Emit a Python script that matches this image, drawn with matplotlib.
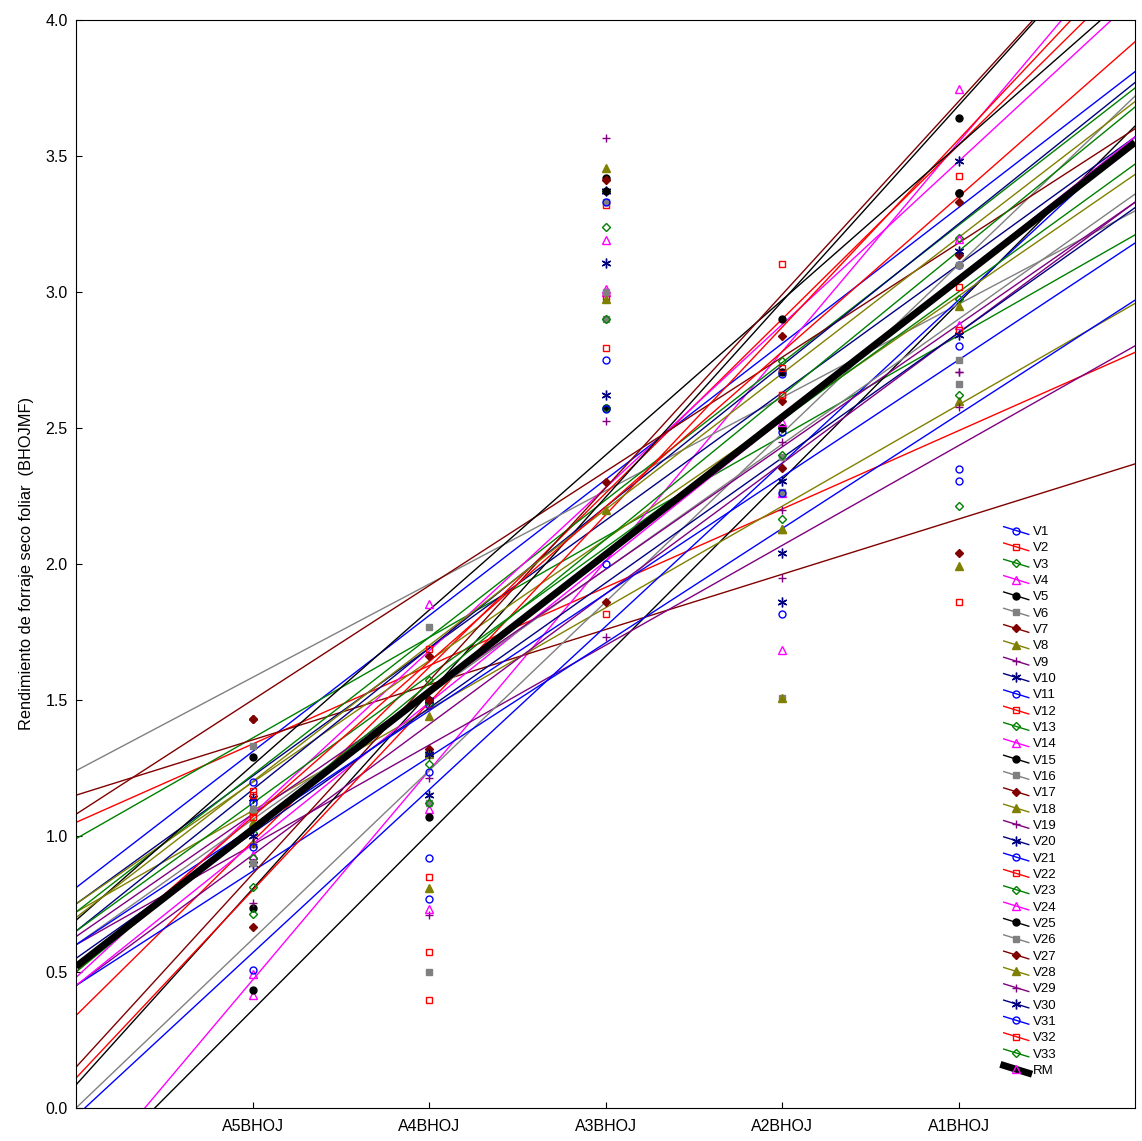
import numpy as np
import matplotlib
matplotlib.use("Agg")
import matplotlib.pyplot as plt
from matplotlib.lines import Line2D
from matplotlib.legend_handler import HandlerLine2D

plt.rcParams['font.family'] = ['Liberation Sans', 'DejaVu Sans']

categories = ["A5BHOJ", "A4BHOJ", "A3BHOJ", "A2BHOJ", "A1BHOJ"]

# observed values per variety (A5 .. A1)
V1 = [1.20, 1.236, 2.75, 2.487, 3.10]
V2 = [1.165, 1.687, 3.32, 3.103, 3.426]
V3 = [1.01, 1.573, 3.37, 2.745, 3.20]
V4 = [0.93, 1.10, 3.00, 2.262, 2.879]
V5 = [1.29, 1.50, 2.573, 2.707, 3.363]
V6 = [1.33, 1.77, 3.33, 2.395, 2.75]
V7 = [1.43, 1.32, 1.86, 2.353, 2.04]
V8 = [1.10, 1.44, 2.20, 2.129, 2.60]
V9 = [0.90, 0.71, 3.567, 2.45, 2.707]
V10 = [1.14, 1.15, 3.37, 2.306, 3.48]
V11 = [1.12, 1.48, 2.00, 2.70, 2.80]
V12 = [1.09, 0.85, 2.98, 2.62, 3.017]
V13 = [0.92, 1.49, 3.24, 2.50, 2.973]
V14 = [0.493, 1.853, 3.01, 1.684, 3.195]
V15 = [0.735, 1.30, 3.37, 2.50, 3.363]
V16 = [1.10, 1.12, 2.90, 2.266, 2.66]
V17 = [1.43, 1.66, 2.30, 2.60, 3.136]
V18 = [1.05, 1.30, 2.975, 2.129, 2.95]
V19 = [0.755, 1.475, 2.527, 2.20, 2.707]
V20 = [0.897, 1.50, 3.105, 2.042, 3.152]
V21 = [0.507, 0.92, 3.33, 1.816, 2.35]
V22 = [1.15, 0.575, 2.794, 2.72, 2.86]
V23 = [0.814, 1.265, 2.573, 2.40, 2.62]
V24 = [0.415, 0.73, 3.19, 2.523, 3.746]
V25 = [0.434, 1.07, 3.42, 2.90, 3.64]
V26 = [0.90, 0.50, 3.00, 1.507, 3.10]
V27 = [0.667, 1.50, 3.41, 2.84, 3.33]
V28 = [0.975, 0.81, 3.455, 1.507, 1.993]
V29 = [0.97, 1.213, 1.73, 1.95, 2.576]
V30 = [1.00, 1.30, 2.62, 1.862, 2.842]
V31 = [0.96, 0.77, 2.57, 2.26, 2.306]
V32 = [1.07, 0.397, 1.816, 2.62, 1.862]
V33 = [0.713, 1.12, 2.90, 2.165, 2.213]

# fitted regression line of each variety (intercept at x=0, slope per category step)
intercepts = [0.81, 1.05, 0.99, -0.30, -0.29, 1.24, 1.15, 0.72, 0.60, 0.75,
              -0.03, 0.34, 0.72, 0.48, 0.085, 0.00, 1.08, 0.75, 0.45, 0.65,
              0.45, 0.11, 0.65, 0.45, 0.69, 0.60, 0.15, 0.70, 0.63, 0.55,
              0.60, 0.50, 0.50]
slopes = [0.50, 0.288, 0.37, 0.77, 0.65, 0.343, 0.203, 0.373, 0.367, 0.47,
          0.60, 0.64, 0.505, 0.60, 0.72, 0.62, 0.42, 0.447, 0.48, 0.52,
          0.42, 0.69, 0.47, 0.52, 0.57, 0.46, 0.71, 0.50, 0.45, 0.46,
          0.43, 0.57, 0.53]
rm_intercept = 0.52
rm_slope = 0.505

series = [V1, V2, V3, V4, V5, V6, V7, V8, V9, V10, V11, V12, V13, V14, V15, V16,
          V17, V18, V19, V20, V21, V22, V23, V24, V25, V26, V27, V28, V29, V30, V31, V32, V33]
labels = ["V%d" % (i + 1) for i in range(len(series))]

colors = ['#0000ff', '#ff0000', '#008000', '#ff00ff', '#000000',
          '#808080', '#800000', '#808000', '#800080', '#000080']
markers = ['o', 's', 'D', '^', 'o', 's', 'D', '^', '+', (6, 2, 0)]
filled = [False, False, False, False, True, True, True, True, True, True]
msizes = [5, 5, 4, 5.5, 5, 5, 4, 5.5, 6, 7]

fig = plt.figure(figsize=(11.42, 11.41), dpi=100)
ax = fig.add_axes([76 / 1142, 33 / 1141, 1059 / 1142, 1088 / 1141])

xpos = np.arange(1, len(categories) + 1)
xline = np.array([0.0, 6.0])

handles = []
for i, ys in enumerate(series):
    k = i % 10
    c = colors[k]
    ax.plot(xline, intercepts[i] + slopes[i] * xline, color=c, lw=1.0, zorder=2)
    mfc = c if filled[k] else 'none'
    ax.plot(xpos, ys, linestyle='none', marker=markers[k], ms=msizes[k],
            mfc=mfc, mec=c, mew=1.0, zorder=3)
    handles.append(Line2D([], [], color=c, lw=1.0, marker=markers[k], ms=msizes[k],
                          mfc=mfc, mec=c, mew=1.0))

ax.plot(xline, rm_intercept + rm_slope * xline, color='black', lw=5, zorder=4,
        solid_capstyle='butt')
handles.append(Line2D([], [], color='black', lw=5, marker='^', ms=6,
                      mfc='none', mec='#ff00ff', mew=1.0))
labels.append("RM")


class DiagHandler(HandlerLine2D):
    def create_artists(self, legend, orig_handle, xdescent, ydescent, width,
                       height, fontsize, trans):
        x0, x1 = -xdescent, -xdescent + width
        yc = -ydescent + height / 2.0
        dy = height * 0.42
        line = Line2D([x0, x1], [yc + dy, yc - dy])
        self.update_prop(line, orig_handle, legend)
        line.set_marker('None')
        mk = Line2D([(x0 + x1) / 2.0], [yc])
        self.update_prop(mk, orig_handle, legend)
        mk.set_linestyle('None')
        line.set_transform(trans)
        mk.set_transform(trans)
        return [line, mk]


ax.legend(handles, labels, handler_map={Line2D: DiagHandler()},
          loc='upper left', bbox_to_anchor=(0.876, 0.535), frameon=False,
          fontsize=9.5, labelspacing=0.31, handlelength=1.9, handletextpad=0.35,
          borderaxespad=0, borderpad=0)

ax.set_xlim(0, 6)
ax.set_ylim(0, 4)
ax.set_xticks(xpos)
ax.set_xticklabels(categories, fontsize=11.5)
ax.set_yticks(np.arange(0, 4.01, 0.5))
ax.set_yticklabels(["%.1f" % v for v in np.arange(0, 4.01, 0.5)], fontsize=11.5)
ax.tick_params(axis='x', direction='in', length=4, width=0.8, pad=8)
ax.tick_params(axis='y', direction='in', length=4, width=0.8, pad=6)
ax.set_ylabel("Rendimiento de forraje seco foliar  (BHOJMF)", fontsize=11.8, labelpad=8)
for sp in ax.spines.values():
    sp.set_linewidth(0.8)

fig.savefig("out.png", dpi=100)
